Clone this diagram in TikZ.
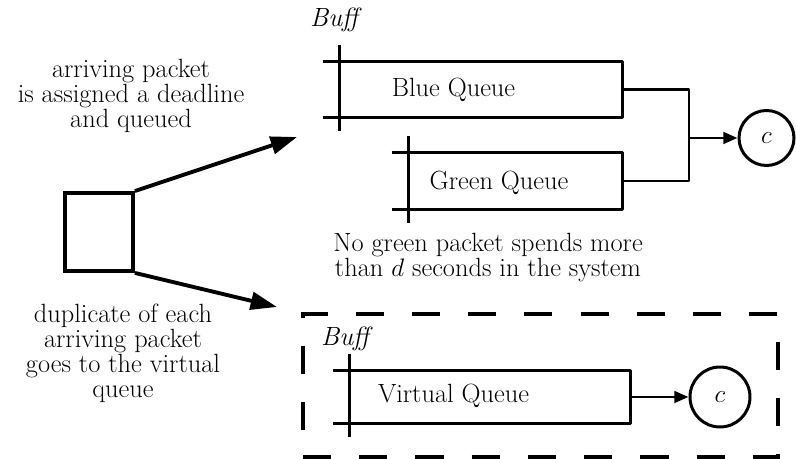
\documentclass[tikz,border=0pt]{standalone}
\usepackage{amssymb,amsmath}
\usepackage{tikz}
\usetikzlibrary{shapes,arrows.meta,positioning}

\begin{document}
\begin{tikzpicture}[font=\fontsize{15}{14.2}\selectfont,
  qbox/.style={shape=rectangle, inner sep=0pt},
  qline/.style={line width=1.7pt, line join=round},
  server/.style={shape=circle, draw=black, line width=1.7pt, inner sep=0pt},
  bigarrow/.style={-{Triangle[length=15pt,width=10pt]}, line width=2.2pt},
  smallarrow/.style={-{Triangle[length=8pt,width=6.5pt]}, line width=1.7pt}]

\useasboundingbox (0,0) rectangle (15.92,9.18);

%arrival box and its two texts
\node [shape=rectangle, draw=black, line width=2.2pt, minimum width=1.36cm, minimum height=1.56cm] at (1.98,4.54) (arrive) {};
\node [align=center] at (2.62,7.27) (assigntext) {arriving packet\\is assigned a deadline\\and queued};
\node [align=center] at (2.46,2.11) (duptext) {duplicate of each\\arriving packet\\goes to the virtual\\queue};

%blue and green queues
\node at (6.72,8.78) (buff) {\textit{Buff}};
\node [qbox, minimum width=5.64cm, minimum height=1.1cm] at (9.62,7.39) (blue) {};
\node [qbox, minimum width=4.26cm, minimum height=1.12cm] at (10.31,5.56) (green) {};
\node at (9.07,7.38) (bluetext) {Blue Queue};
\node at (9.98,5.52) (greentext) {Green Queue};

\draw [qline] ([xshift=-0.34cm]blue.north west) -- (blue.north east) -- (blue.south east) -- ([xshift=-0.34cm]blue.south west);
\draw [qline] ([yshift=0.34cm]blue.north west) -- ([yshift=-0.28cm]blue.south west);
\draw [qline] ([xshift=-0.34cm]green.north west) -- (green.north east) -- (green.south east) -- ([xshift=-0.34cm]green.south west);
\draw [qline] ([yshift=0.34cm]green.north west) -- ([yshift=-0.28cm]green.south west);

%both queues feed one server
\coordinate (merge) at (13.78,6.42);
\node [server, minimum size=1.1cm] at (15.33,6.42) (srv) {$c$};
\draw [qline] (blue.east) -| (merge) |- (green.east);
\draw [smallarrow] (merge) -- (srv);

\node [align=center] at (9.76,4.02) (ruletext) {No green packet spends more\\than $d$ seconds in the system};

%virtual queue inside dashed frame
\node [shape=rectangle, draw=black, line width=2.3pt, dash pattern=on 16pt off 16pt, minimum width=9.5cm, minimum height=2.86cm] at (10.81,1.47) (vframe) {};
\node at (6.94,2.40) (vbuff) {\textit{Buff}};
\node [qbox, minimum width=5.6cm, minimum height=1.04cm] at (9.8,1.24) (virt) {};
\node at (9.07,1.26) (virttext) {Virtual Queue};
\draw [qline] ([xshift=-0.34cm]virt.north west) -- (virt.north east) -- (virt.south east) -- ([xshift=-0.34cm]virt.south west);
\draw [qline] ([yshift=0.34cm]virt.north west) -- ([yshift=-0.28cm]virt.south west);
\node [server, minimum size=1.2cm] at (14.4,1.24) (vsrv) {$c$};
\draw [smallarrow] (virt.east) -- (vsrv);

%arrivals go to the queues and a copy to the virtual queue
\coordinate (toqueues) at (5.94,6.44);
\coordinate (tovirtual) at (5.54,3.04);
\draw [bigarrow] (arrive.north east) -- (toqueues);
\draw [bigarrow] (arrive.south east) -- (tovirtual);

\end{tikzpicture}
\end{document}
